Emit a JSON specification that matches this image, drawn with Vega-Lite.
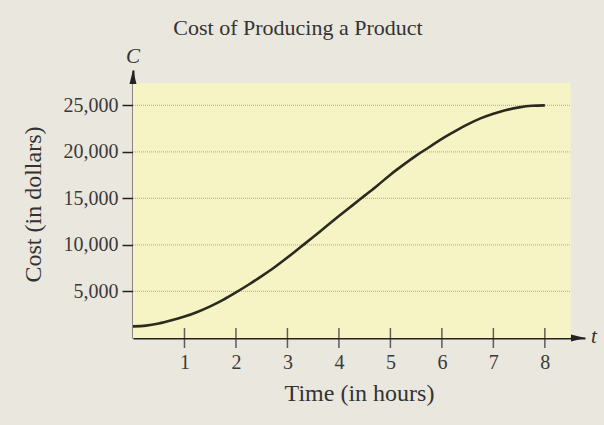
{
  "$schema": "https://vega.github.io/schema/vega-lite/v6.json",
  "width": 452,
  "height": 268,
  "autosize": {"type": "none"},
  "padding": {"left": 133, "top": 70, "right": 19, "bottom": 87},
  "background": "#eae7de",
  "config": {
    "view": {"stroke": null},
    "font": "Liberation Serif"
  },
  "title": {
    "text": "Cost of Producing a Product",
    "font": "Liberation Serif",
    "fontSize": 22,
    "fontWeight": "normal",
    "color": "#333333",
    "anchor": "middle",
    "dx": -61,
    "offset": 6
  },
  "datasets": {
    "curve": [
      {"t": 0, "c": 1250}, {"t": 0.25, "c": 1330}, {"t": 0.5, "c": 1560}, {"t": 0.75, "c": 1900},
      {"t": 1, "c": 2300}, {"t": 1.25, "c": 2800}, {"t": 1.5, "c": 3400}, {"t": 1.75, "c": 4100},
      {"t": 2, "c": 4900}, {"t": 2.25, "c": 5750}, {"t": 2.5, "c": 6650}, {"t": 2.75, "c": 7600},
      {"t": 3, "c": 8650}, {"t": 3.25, "c": 9750}, {"t": 3.5, "c": 10850}, {"t": 3.75, "c": 11980},
      {"t": 4, "c": 13100}, {"t": 4.25, "c": 14200}, {"t": 4.5, "c": 15300}, {"t": 4.75, "c": 16400},
      {"t": 5, "c": 17550}, {"t": 5.25, "c": 18600}, {"t": 5.5, "c": 19600}, {"t": 5.75, "c": 20500},
      {"t": 6, "c": 21400}, {"t": 6.25, "c": 22200}, {"t": 6.5, "c": 22950}, {"t": 6.75, "c": 23600},
      {"t": 7, "c": 24100}, {"t": 7.25, "c": 24500}, {"t": 7.5, "c": 24780}, {"t": 7.75, "c": 24950},
      {"t": 8, "c": 25000}
    ],
    "panel": [{"t": 0, "t2": 8.5, "c": 0, "c2": 27400}],
    "grid": [
      {"c": 5000, "t": 0, "t2": 8.5}, {"c": 10000, "t": 0, "t2": 8.5}, {"c": 15000, "t": 0, "t2": 8.5},
      {"c": 20000, "t": 0, "t2": 8.5}, {"c": 25000, "t": 0, "t2": 8.5}
    ],
    "xticks": [
      {"t": 1, "c": 0}, {"t": 2, "c": 0}, {"t": 3, "c": 0}, {"t": 4, "c": 0},
      {"t": 5, "c": 0}, {"t": 6, "c": 0}, {"t": 7, "c": 0}, {"t": 8, "c": 0}
    ],
    "arrows": [
      {"t": 0, "c": 28048, "dir": "up"},
      {"t": 8.644, "c": 0, "dir": "right"}
    ],
    "labels": [
      {"t": 0, "c": 28800, "lab": "C", "axis": "y"},
      {"t": 8.78, "c": 0, "lab": "t", "axis": "x"}
    ]
  },
  "encoding": {
    "x": {
      "field": "t", "type": "quantitative",
      "scale": {"domain": [0, 8.78], "nice": false, "zero": false},
      "axis": {
        "title": "Time (in hours)",
        "titleFont": "Liberation Serif", "titleFontSize": 24, "titleFontWeight": "normal", "titleColor": "#333333",
        "titlePadding": 9,
        "values": [1, 2, 3, 4, 5, 6, 7, 8],
        "format": "d",
        "labelFont": "Liberation Serif", "labelFontSize": 20, "labelColor": "#3a3a3a",
        "labelPadding": 14,
        "ticks": false, "tickSize": 0,
        "grid": false,
        "domainColor": "#222222", "domainWidth": 2
      }
    },
    "y": {
      "field": "c", "type": "quantitative",
      "scale": {"domain": [0, 28800], "nice": false, "zero": false},
      "axis": {
        "title": "Cost (in dollars)",
        "titleFont": "Liberation Serif", "titleFontSize": 24, "titleFontWeight": "normal", "titleColor": "#333333",
        "titlePadding": 18,
        "values": [5000, 10000, 15000, 20000, 25000],
        "format": ",.0f",
        "labelFont": "Liberation Serif", "labelFontSize": 20, "labelColor": "#3a3a3a",
        "labelPadding": 4,
        "ticks": true, "tickSize": 11, "tickWidth": 1.5, "tickColor": "#222222",
        "grid": false,
        "domainColor": "#222222", "domainWidth": 2
      }
    }
  },
  "layer": [
    {
      "data": {"name": "panel"},
      "mark": {"type": "rect", "color": "#f6f4c4"},
      "encoding": {
        "x2": {"field": "t2"},
        "y2": {"field": "c2"}
      }
    },
    {
      "data": {"name": "grid"},
      "mark": {"type": "rule", "color": "#bdb98e", "strokeWidth": 1.2, "strokeDash": [1, 1]},
      "encoding": {
        "x2": {"field": "t2"}
      }
    },
    {
      "data": {"name": "curve"},
      "mark": {"type": "line", "color": "#2a2a1f", "strokeWidth": 2.6, "interpolate": "monotone"},
      "encoding": {}
    },
    {
      "data": {"name": "xticks"},
      "mark": {"type": "tick", "orient": "vertical", "size": 20, "thickness": 1.5, "color": "#222222"},
      "encoding": {}
    },
    {
      "data": {"name": "arrows"},
      "mark": {"type": "point", "filled": true, "color": "#222222", "size": 196, "opacity": 1},
      "encoding": {
        "shape": {
          "field": "dir", "type": "nominal", "legend": null,
          "scale": {"domain": ["up", "right"], "range": ["M0,-1L0.5,1L-0.5,1Z", "M1,0L-1,-0.5L-1,0.5Z"]}
        }
      }
    },
    {
      "data": {"name": "labels"},
      "transform": [{"filter": "datum.axis == 'y'"}],
      "mark": {"type": "text", "font": "Liberation Serif", "fontStyle": "italic", "fontSize": 21, "color": "#333333", "dy": -13, "baseline": "middle", "align": "center"},
      "encoding": {
        "text": {"field": "lab"}
      }
    },
    {
      "data": {"name": "labels"},
      "transform": [{"filter": "datum.axis == 'x'"}],
      "mark": {"type": "text", "font": "Liberation Serif", "fontStyle": "italic", "fontSize": 21, "color": "#333333", "dx": 9, "dy": -1, "baseline": "middle", "align": "center"},
      "encoding": {
        "text": {"field": "lab"}
      }
    }
  ]
}
